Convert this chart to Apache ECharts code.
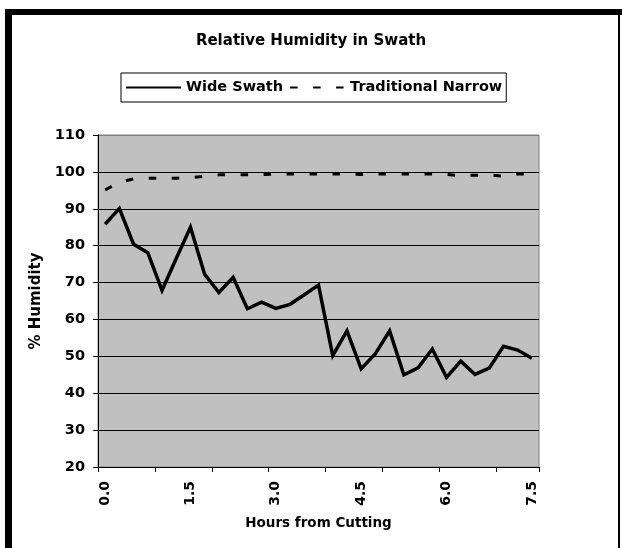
<!DOCTYPE html>
<html>
<head>
<meta charset="utf-8">
<script src="https://cdn.jsdelivr.net/npm/echarts@6/dist/echarts.min.js"></script>
<style>
html,body{margin:0;padding:0;background:#fff;}
#chart{width:622px;height:548px;}
</style>
</head>
<body>
<div id="chart"></div>
<script>
// Hours from cutting (categories)
var hours = [0.00, 0.25, 0.50, 0.75, 1.00, 1.25, 1.50, 1.75, 2.00, 2.25, 2.50, 2.75, 3.00, 3.25, 3.50, 3.75,
             4.00, 4.25, 4.50, 4.75, 5.00, 5.25, 5.50, 5.75, 6.00, 6.25, 6.50, 6.75, 7.00, 7.25, 7.50];
// % Humidity - Wide Swath
var wideSwath = [85.8, 90.1, 80.4, 78.1, 67.9, 76.5, 85.0, 72.2, 67.3, 71.4, 62.9, 64.7, 63.0, 64.1, 66.7, 69.3,
                 50.2, 56.9, 46.6, 50.7, 56.9, 45.0, 46.9, 52.0, 44.3, 48.7, 45.1, 46.8, 52.7, 51.7, 49.5];
// % Humidity - Traditional Narrow
var traditionalNarrow = [95.1, 97.2, 98.1, 98.3, 98.3, 98.3, 98.4, 98.8, 99.2, 99.2, 99.2, 99.3, 99.4, 99.4, 99.4, 99.4,
                         99.4, 99.4, 99.3, 99.4, 99.4, 99.4, 99.4, 99.4, 99.3, 99.0, 99.1, 99.2, 98.8, 99.4, 99.4];
var yTicks = [20, 30, 40, 50, 60, 70, 80, 90, 100, 110];

var FONT = '"DejaVu Sans", sans-serif';
var chart = echarts.init(document.getElementById('chart'), null, {renderer: 'canvas'});
var splitColors = yTicks.map(function (v, i) { return i === yTicks.length - 1 ? '#808080' : '#000000'; });

chart.setOption({
  backgroundColor: '#ffffff',
  animation: false,
  title: {
    text: 'Relative Humidity in Swath',
    left: 'center',
    top: 29,
    textStyle: {fontFamily: FONT, fontSize: 15, fontWeight: 'bold', color: '#000'}
  },
  legend: {
    left: 121,
    top: 73,
    orient: 'horizontal',
    padding: [7, 4, 7, 4],
    itemGap: 6,
    itemWidth: 55,
    itemHeight: 14,
    borderColor: '#000',
    borderWidth: 1,
    backgroundColor: '#fff',
    itemStyle: {color: 'transparent', borderColor: 'transparent', borderWidth: 0},
    textStyle: {fontFamily: FONT, fontSize: 14.5, fontWeight: 'bold', color: '#000'},
    data: ['Wide Swath', 'Traditional Narrow']
  },
  grid: {
    left: 98, right: 83, top: 135, bottom: 81,
    show: true,
    backgroundColor: '#C0C0C0',
    borderColor: '#808080',
    borderWidth: 1
  },
  xAxis: {
    type: 'category',
    data: hours,
    boundaryGap: true,
    name: 'Hours from Cutting',
    nameLocation: 'middle',
    nameGap: 49,
    nameTextStyle: {fontFamily: FONT, fontSize: 13.5, fontWeight: 'bold', color: '#000'},
    axisLine: {show: true, lineStyle: {color: '#000', width: 1}},
    axisTick: {show: true, interval: 3, length: 5, lineStyle: {color: '#000'}},
    axisLabel: {
      interval: 5, rotate: 90, margin: 14,
      fontFamily: FONT, fontSize: 14, fontWeight: 'bold', color: '#000',
      formatter: function (v) { return Number(v).toFixed(1); }
    },
    splitLine: {show: false}
  },
  yAxis: {
    type: 'value',
    min: 20, max: 110, interval: 10,
    name: '% Humidity',
    nameLocation: 'middle',
    nameGap: 48,
    nameRotate: 90,
    nameTextStyle: {fontFamily: FONT, fontSize: 15, fontWeight: 'bold', color: '#000'},
    axisLine: {show: true, lineStyle: {color: '#000', width: 1}},
    axisTick: {show: true, length: 5, lineStyle: {color: '#000'}},
    axisLabel: {margin: 13, fontFamily: FONT, fontSize: 14.5, fontWeight: 'bold', color: '#000'},
    splitLine: {show: true, lineStyle: {color: splitColors, width: 1}}
  },
  series: [
    {
      name: 'Wide Swath',
      type: 'line',
      data: wideSwath,
      symbol: 'none',
      lineStyle: {color: '#000', width: 3.5, join: 'miter'},
      itemStyle: {color: '#000'}
    },
    {
      name: 'Traditional Narrow',
      type: 'line',
      data: traditionalNarrow,
      symbol: 'none',
      lineStyle: {color: '#000', width: 3, type: [7.5, 15.5]},
      itemStyle: {color: '#000'}
    }
  ],
  graphic: [
    {type: 'rect', shape: {x: 5, y: 9, width: 617, height: 6}, style: {fill: '#000'}, silent: true},
    {type: 'rect', shape: {x: 5, y: 9, width: 7, height: 539}, style: {fill: '#000'}, silent: true},
    {type: 'rect', shape: {x: 618, y: 9, width: 2, height: 539}, style: {fill: '#000'}, silent: true}
  ]
});
</script>
</body>
</html>
